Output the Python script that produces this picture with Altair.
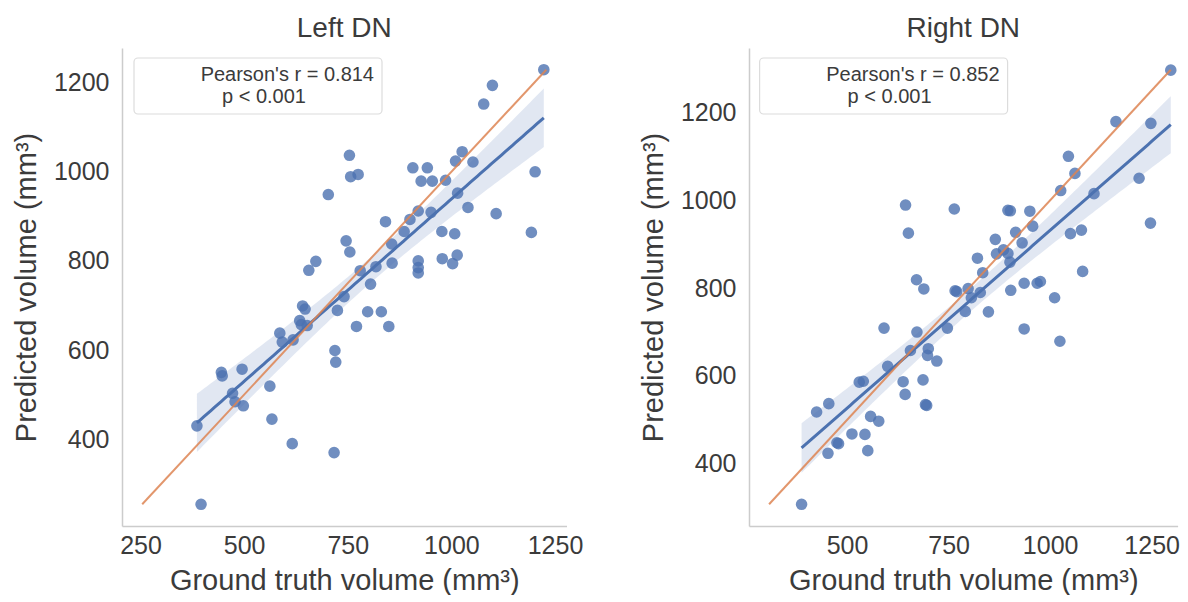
import altair as alt
import numpy as np
import pandas as pd

# ---------------- data ----------------
left_gt = [1223, 1099, 1078, 1026, 1010, 1052, 907, 942, 927, 954, 986, 754, 757, 775, 703,
           1202, 1015, 1040, 1108, 920, 951, 900, 841, 886, 977, 1008, 1193, 856, 746, 755,
           673, 656, 857, 920, 920, 920, 978, 1003, 1014, 780, 818, 805, 741, 725, 798, 831,
           849, 771, 641, 647, 634, 638, 652, 618, 586, 592, 719, 721, 445, 447, 495, 472,
           478, 498, 562, 567, 616, 717, 386, 396]
left_pred = [1229, 1194, 1152, 1045, 1024, 1022, 1009, 1009, 979, 979, 981, 1037, 989, 994, 949,
             1000, 952, 920, 906, 912, 909, 893, 888, 866, 866, 861, 864, 838, 845, 820,
             799, 779, 795, 800, 785, 773, 805, 794, 813, 778, 787, 748, 720, 689, 686, 686,
             653, 653, 699, 692, 666, 657, 655, 623, 638, 618, 599, 573, 550, 542, 557, 503,
             484, 475, 519, 445, 390, 370, 430, 254]

right_gt = [1297, 1162, 1248, 1045, 1061, 1026, 1108, 1219, 1247, 644, 764, 651, 896, 902, 950,
            957, 915, 931, 865, 1050, 1077, 821, 868, 885, 896, 901, 834, 1080, 671, 689, 766,
            770, 798, 828, 806, 903, 936, 968, 976, 1011, 791, 848, 591, 672, 747, 936, 1024,
            700, 698, 656, 721, 600, 530, 540, 638, 687, 643, 693, 696, 425, 455, 558, 578,
            512, 544, 475, 479, 453, 551, 388]
right_pred = [1296, 1179, 1175, 1100, 1061, 1022, 1015, 1050, 948, 989, 980, 925, 977, 976, 975,
              941, 927, 903, 911, 924, 932, 868, 878, 887, 879, 859, 835, 838, 819, 798, 794,
              792, 799, 790, 778, 795, 811, 811, 815, 778, 747, 746, 709, 700, 709, 707, 679,
              662, 647, 658, 634, 622, 586, 588, 587, 591, 558, 535, 533, 518, 537, 508, 497,
              468, 467, 448, 446, 424, 430, 308]

titles = ["Left DN", "Right DN"]
stat_lines = [["Pearson's r = 0.814", "p < 0.001"], ["Pearson's r = 0.852", "p < 0.001"]]
x_ticks = [[250, 500, 750, 1000, 1250], [500, 750, 1000, 1250]]
y_ticks = [400, 600, 800, 1000, 1200]

FONT = "Liberation Sans"
TEXT = "#3b3b3b"
BLUE = "#4c72b0"
ORANGE = "#dd8452"


def panel(gt, pred, title, lines, xticks, width, height, xmax_cut, box):
    gt = np.array(gt, float)
    pred = np.array(pred, float)
    n = len(gt)
    lo_all = min(gt.min(), pred.min())
    hi_all = max(gt.max(), pred.max())
    m = 0.05 * (hi_all - lo_all)
    dom = [lo_all - m, hi_all + m]
    xdom = [dom[0], min(dom[1], xmax_cut)]

    slope, intercept = np.polyfit(gt, pred, 1)
    xs = np.linspace(gt.min(), gt.max(), 100)
    yhat = intercept + slope * xs
    resid = pred - (intercept + slope * gt)
    s = np.sqrt((resid ** 2).sum() / (n - 2))
    sxx = ((gt - gt.mean()) ** 2).sum()
    se = s * np.sqrt(1.0 / n + (xs - gt.mean()) ** 2 / sxx)
    fit = pd.DataFrame({"gt": xs, "pred": yhat, "lo": yhat - 2.0 * se, "hi": yhat + 2.0 * se})
    pts = pd.DataFrame({"gt": gt, "pred": pred})
    diag = pd.DataFrame({"gt": [lo_all, hi_all], "pred": [lo_all, hi_all]})
    one = pd.DataFrame({"k": [0]})

    xaxis = alt.Axis(values=xticks, format="d", title="Ground truth volume (mm³)")
    yaxis = alt.Axis(values=y_ticks, format="d", title="Predicted volume (mm³)")
    xs_ = alt.Scale(domain=xdom, nice=False, zero=False)
    ys_ = alt.Scale(domain=dom, nice=False, zero=False)
    X = alt.X("gt:Q", scale=xs_, axis=xaxis)
    Y = alt.Y("pred:Q", scale=ys_, axis=yaxis)

    band = alt.Chart(fit).mark_area(color=BLUE, opacity=0.17).encode(
        x=X, y=alt.Y("lo:Q", scale=ys_, axis=yaxis), y2="hi:Q")
    scatter = alt.Chart(pts).mark_circle(color=BLUE, opacity=0.8, size=135).encode(x=X, y=Y)
    reg = alt.Chart(fit).mark_line(color=BLUE, strokeWidth=3).encode(x=X, y=Y)
    dline = alt.Chart(diag).mark_line(color=ORANGE, strokeWidth=2, opacity=0.85).encode(x=X, y=Y)

    bx0, bx1, tr, l2 = box
    rect = alt.Chart(one).mark_rect(fill="white", stroke="#d9d9d9", strokeWidth=1.2,
                                    cornerRadius=4, opacity=0.9).encode(
        x=alt.value(bx0), x2=alt.value(bx1), y=alt.value(10), y2=alt.value(66))
    t1 = alt.Chart(one).mark_text(font=FONT, fontSize=20, color=TEXT, align="right",
                                  baseline="alphabetic").encode(
        x=alt.value(tr), y=alt.value(33), text=alt.value(lines[0]))
    t2 = alt.Chart(one).mark_text(font=FONT, fontSize=20, color=TEXT, align="left",
                                  baseline="alphabetic").encode(
        x=alt.value(l2), y=alt.value(55), text=alt.value(lines[1]))

    return alt.layer(band, scatter, reg, dline, rect, t1, t2).properties(
        width=width, height=height, title=title)


left = panel(left_gt, left_pred, titles[0], stat_lines[0], x_ticks[0], 444.5, 478, 1e9,
             (12, 260, 252, 100))
right = panel(right_gt, right_pred, titles[1], stat_lines[1], x_ticks[1], 428.6, 478, 1313.8,
              (10.6, 258.6, 250.6, 98.6))

chart = alt.hconcat(left, right, spacing=182, bounds="flush").properties(
    padding={"left": 4, "top": 7, "right": 0, "bottom": 0}
).configure_view(stroke=None).configure_axis(
    domainColor="#cccccc", domainWidth=1.5, ticks=False, grid=False,
    labelFont=FONT, labelFontSize=25, labelColor=TEXT, labelPadding=7,
    titleFont=FONT, titleFontSize=29, titleColor=TEXT, titleFontWeight="normal",
    titlePadding=8,
).configure_axisY(labelPadding=13, titlePadding=12).configure_title(
    font=FONT, fontSize=28, color=TEXT, fontWeight="normal", offset=5
)

chart.save("out.html", embed_options={"renderer": "svg", "actions": False})
